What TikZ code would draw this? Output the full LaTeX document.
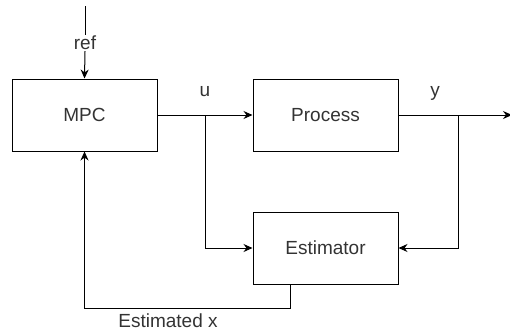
\documentclass[tikz,border=0pt]{standalone}
\usepackage{fontspec}
\setmainfont{Liberation Sans}
\usepackage{tikz}
\usetikzlibrary{arrows.meta, positioning, calc}

\definecolor{txtgray}{HTML}{333333}

\begin{document}
\begin{tikzpicture}[
        x=1pt, y=-1pt,
        block/.style={rectangle, draw, line width=1pt, minimum width=145pt, minimum height=72pt, inner sep=0pt, font=\fontsize{19}{22}\selectfont, text=txtgray},
        sig/.style={-{Stealth[length=9pt, width=8pt]}, line width=1pt},
        wire/.style={line width=1pt},
        lbl/.style={font=\fontsize{19}{22}\selectfont, text=txtgray, inner sep=1pt}
    ]
    \useasboundingbox (0, 0) rectangle (510, 333);

    % Blocks
    \node[block] (mpc) at (84.5, 115) {MPC};
    \node[block] (process) at (325.5, 115) {Process};
    \node[block] (estimator) at (325.5, 248) {Estimator};

    % Branch points and free ends
    \coordinate (reftop) at (85, 6);
    \coordinate (ubranch) at (205, 115);
    \coordinate (ybranch) at (458, 115);
    \coordinate (yout) at (512, 115);
    \coordinate (xhat) at (290, 284);

    % Labels
    \node[lbl] (ref) at (85, 43) {ref};
    \node[lbl] (ulabel) at (205, 92) {u};
    \node[lbl] (ylabel) at (435, 93) {y};
    \node[lbl] (xlabel) at (168, 321) {Estimated x};

    % Reference input
    \draw[wire] (reftop) -- (ref.north);
    \draw[sig] (ref.south) -- (mpc.north);

    % Control signal u
    \draw[sig] (mpc.east) -- (process.west);
    \draw[sig] (ubranch) |- (estimator.west);

    % Measured output y
    \draw[sig] (process.east) -- (yout);
    \draw[sig] (ybranch) |- (estimator.east);

    % State estimate back to the controller
    \draw[sig] (xhat) -- ++(0, 24) -| (mpc.south);
\end{tikzpicture}
\end{document}
